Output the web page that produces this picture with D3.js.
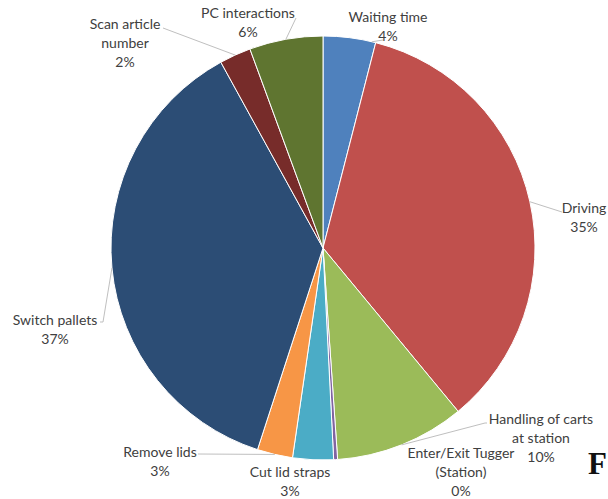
<!DOCTYPE html>
<html>
<head>
<meta charset="utf-8">
<script src="https://cdn.jsdelivr.net/npm/d3@7"></script>
<style>
  html, body { margin: 0; padding: 0; background: #ffffff; }
  svg { display: block; }
  text { font-family: Lato, "Open Sans", sans-serif; }
</style>
</head>
<body>
<svg id="chart" width="608" height="499"></svg>
<script>
// Share of time per activity (percent), clockwise from 12 o'clock
const categories = [
  "Waiting time",
  "Driving",
  "Handling of carts at station",
  "Enter/Exit Tugger (Station)",
  "Cut lid straps",
  "Remove lids",
  "Switch pallets",
  "Scan article number",
  "PC interactions"
];
const values = [4.0, 35.0, 9.9, 0.3, 3.1, 2.7, 37.0, 2.4, 5.6];

// Label text split into lines (the percentage line is appended from the value)
const labelLines = [
  ["Waiting time"],
  ["Driving"],
  ["Handling of carts", "at station"],
  ["Enter/Exit Tugger", "(Station)"],
  ["Cut lid straps"],
  ["Remove lids"],
  ["Switch pallets"],
  ["Scan article", "number"],
  ["PC interactions"]
];

const colors = ["#4f81bd", "#c0504d", "#9bbb59", "#8064a2", "#4bacc6",
                "#f79646", "#2c4d75", "#772c2a", "#5f7530"];

// Label placement: centre x, y of first line; optional leader line from the
// label side (points) to the slice rim at a fraction of the slice's sweep
const labelLayout = [
  { x: 388, y: 17,  leader: [[383, 40]], at: 0.93 },
  { x: 584, y: 208, leader: [[562, 212]], at: 0.5 },
  { x: 541, y: 419, leader: [[487, 423], [485, 423]], at: 0.5 },
  { x: 461, y: 453 },
  { x: 290, y: 472 },
  { x: 160, y: 452, leader: [[198, 454]], at: 0.5 },
  { x: 55,  y: 320, leader: [[100, 322], [103, 322]], at: 0.5 },
  { x: 125, y: 24,  leader: [[163, 28]], at: 0.5 },
  { x: 248, y: 13,  leader: [[296, 18]], at: 0.5 }
];

const cx = 323, cy = 248, radius = 212;
const lineStep = 19;

const svg = d3.select("#chart");
const g = svg.append("g").attr("transform", `translate(${cx},${cy})`);

const pie = d3.pie().sort(null).value(d => d)(values);
const arc = d3.arc().innerRadius(0).outerRadius(radius);

g.selectAll("path.slice")
  .data(pie)
  .join("path")
  .attr("class", "slice")
  .attr("d", arc)
  .attr("fill", (d, i) => colors[i])
  .attr("stroke", "#ffffff")
  .attr("stroke-width", 1);

// Leader lines
const rimPoint = (d, t) => {
  const a = d.startAngle + (d.endAngle - d.startAngle) * t;
  return [cx + radius * Math.sin(a), cy - radius * Math.cos(a)];
};
const line = d3.line();
pie.forEach((d, i) => {
  const L = labelLayout[i];
  if (!L.leader) return;
  const pts = L.leader.concat([rimPoint(d, L.at)]);
  svg.append("path")
    .attr("d", line(pts))
    .attr("fill", "none")
    .attr("stroke", "#bfbfbf")
    .attr("stroke-width", 1);
});

// Data labels
const fmt = v => Math.round(v) + "%";
pie.forEach((d, i) => {
  const L = labelLayout[i];
  const lines = labelLines[i].concat([fmt(values[i])]);
  const t = svg.append("text")
    .attr("text-anchor", "middle")
    .attr("font-size", 14)
    .attr("fill", "#404040");
  lines.forEach((s, k) => {
    t.append("tspan")
      .attr("x", L.x)
      .attr("y", L.y + k * lineStep)
      .attr("dy", "0.35em")
      .text(s);
  });
});

// Panel letter
svg.append("text")
  .attr("x", 588)
  .attr("y", 474)
  .attr("font-weight", "bold")
  .attr("font-size", 31)
  .attr("fill", "#111111")
  .style("font-family", "'Liberation Serif', 'DejaVu Serif', serif")
  .text("F");
</script>
</body>
</html>
